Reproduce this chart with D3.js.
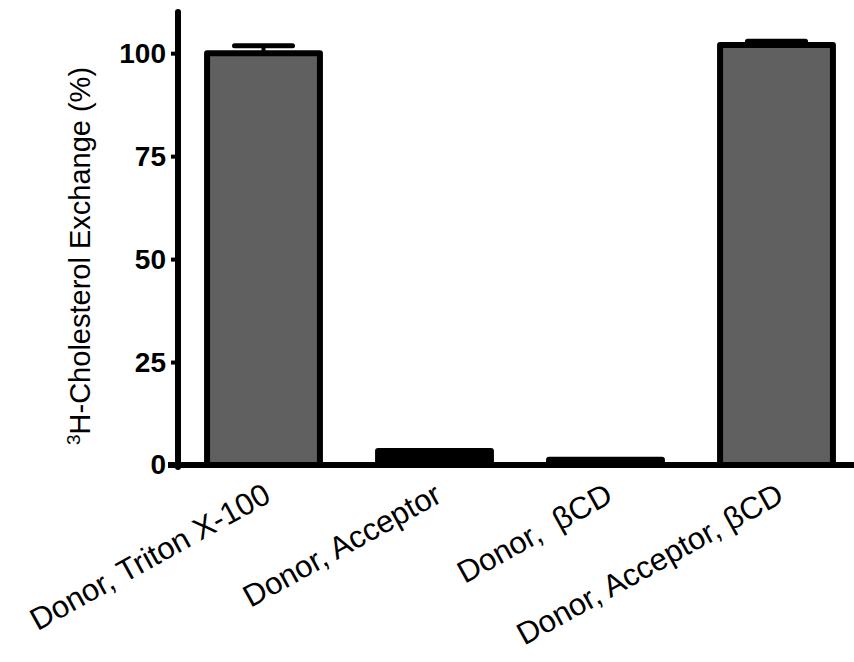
<!DOCTYPE html>
<html>
<head>
<meta charset="utf-8">
<script src="https://cdn.jsdelivr.net/npm/d3@7/dist/d3.min.js"></script>
<style>
  html, body { margin: 0; padding: 0; background: #fff; }
  svg { display: block; }
  text { font-family: Arial, "Liberation Sans", sans-serif; }
</style>
</head>
<body>
<svg id="chart" width="854" height="662"></svg>
<script>
// ---- data ----
const categories = ["Donor, Triton X-100", "Donor, Acceptor", "Donor,  \u03B2CD", "Donor, Acceptor, \u03B2CD"];
const means = [100, 3.4, 1.3, 102];
const errors = [1.8, 0, 0, 0.9];
const yTicks = [0, 25, 50, 75, 100];

// ---- styles ----
const barFills = ["#606060", "#000000", "#000000", "#606060"];

const svg = d3.select("#chart");
const x0 = 178, yBottom = 465, yTop = 12;

const x = d3.scaleBand()
  .domain(categories)
  .range([x0, x0 + 4 * 171])
  .paddingInner(0.34)
  .paddingOuter(0.17);

const y = d3.scaleLinear().domain([0, 110]).range([yBottom, yTop]);

// bars
svg.append("g").selectAll("rect")
  .data(categories)
  .join("rect")
  .attr("x", d => x(d))
  .attr("width", x.bandwidth())
  .attr("y", (d, i) => y(means[i]))
  .attr("height", (d, i) => y(0) - y(means[i]))
  .attr("fill", (d, i) => barFills[i])
  .attr("stroke", "#000")
  .attr("stroke-width", 6)
  .attr("stroke-linejoin", "round");

// error bars (upper only)
const eg = svg.append("g").attr("stroke", "#000").attr("stroke-linecap", "round");
categories.forEach((c, i) => {
  if (errors[i] <= 0) return;
  const cx = x(c) + x.bandwidth() / 2;
  eg.append("line")
    .attr("x1", cx).attr("x2", cx)
    .attr("y1", y(means[i])).attr("y2", y(means[i] + errors[i]))
    .attr("stroke-width", 4);
  eg.append("line")
    .attr("x1", cx - 29).attr("x2", cx + 29)
    .attr("y1", y(means[i] + errors[i])).attr("y2", y(means[i] + errors[i]))
    .attr("stroke-width", 5);
});

// y axis
const yAxis = d3.axisLeft(y).tickValues(yTicks).tickSize(7).tickPadding(5).tickFormat(d3.format("d"));
const gy = svg.append("g").attr("transform", `translate(${x0},0)`).call(yAxis);
gy.select(".domain").remove();
gy.selectAll(".tick line").attr("stroke", "#000").attr("stroke-width", 4);
gy.selectAll(".tick text")
  .attr("font-family", "Arial, 'Liberation Sans', sans-serif")
  .attr("font-size", 28).attr("font-weight", "bold").attr("fill", "#000");
svg.append("line")
  .attr("x1", x0).attr("x2", x0)
  .attr("y1", y(110)).attr("y2", yBottom + 2)
  .attr("stroke", "#000").attr("stroke-width", 6).attr("stroke-linecap", "round");

// x axis
const xAxis = d3.axisBottom(x).tickSize(0).tickPadding(0);
const gx = svg.append("g").attr("transform", `translate(0,${yBottom})`).call(xAxis);
gx.select(".domain").remove();
gx.selectAll(".tick text")
  .attr("font-family", "Arial, 'Liberation Sans', sans-serif")
  .attr("font-size", 31).attr("fill", "#000")
  .attr("text-anchor", "end")
  .attr("dy", null)
  .attr("y", 0)
  .style("white-space", "pre")
  .attr("transform", "translate(9,36) rotate(-29)");
svg.append("line")
  .attr("x1", 168).attr("x2", 854)
  .attr("y1", yBottom).attr("y2", yBottom)
  .attr("stroke", "#000").attr("stroke-width", 6);

// y label
const yl = svg.append("text")
  .attr("transform", "translate(90,445) rotate(-90)")
  .attr("text-anchor", "start")
  .attr("font-size", 29)
  .attr("fill", "#000");
yl.append("tspan").attr("font-size", 19).attr("baseline-shift", "super").text("3");
yl.append("tspan").text("H-Cholesterol Exchange (%)");
</script>
</body>
</html>
